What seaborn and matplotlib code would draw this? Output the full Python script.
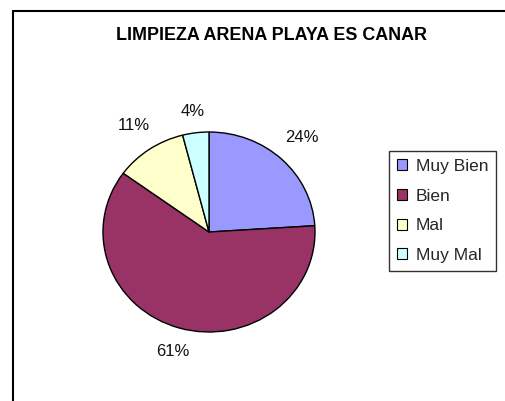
import matplotlib
matplotlib.use("Agg")
import numpy as np
import matplotlib.pyplot as plt
import seaborn as sns
from matplotlib.lines import Line2D
from matplotlib.patches import Patch

categories = ["Muy Bien", "Bien", "Mal", "Muy Mal"]
values = [24, 61, 11, 4]
colors = ["#9999FF", "#993366", "#FFFFCC", "#CCFFFF"]
title = "LIMPIEZA ARENA PLAYA ES CANAR"

sns.set_theme(style="white")
plt.rcParams['font.family'] = ['Liberation Sans', 'DejaVu Sans']

W, H = 506, 401
fig = plt.figure(figsize=(W / 100, H / 100), dpi=100)
fig.patch.set_facecolor("white")

# frame (left and top edges visible)
fig.add_artist(Line2D([13 / W, 13 / W], [0, 1 - 11 / H], color="black", lw=1.5))
fig.add_artist(Line2D([13 / W, 1], [1 - 11 / H, 1 - 11 / H], color="black", lw=1.5))

fig.text(272 / W, 1 - 35 / H, title, ha="center", va="center",
         fontsize=12.9, fontweight="bold", color="black")

cx, cy, rx, ry = 209, 232, 106, 100
ax = fig.add_axes([(cx - rx) / W, 1 - (cy + ry) / H, 2 * rx / W, 2 * ry / H])
wedges, texts, autotexts = ax.pie(
    values, colors=colors, startangle=90, counterclock=False,
    autopct=lambda p: f"{p:.0f}%", pctdistance=1.25,
    wedgeprops=dict(edgecolor="black", linewidth=1.0),
    textprops=dict(fontsize=12, color="#111111"))
ax.set_aspect("auto")
ax.set_xlim(-1, 1)
ax.set_ylim(-1, 1)
ax.axis("off")

# Excel-like label placement: label box sits a fixed gap outside the rim
fig.canvas.draw()
renderer = fig.canvas.get_renderer()
gap = 13
for w, t in zip(wedges, autotexts):
    th = np.deg2rad((w.theta1 + w.theta2) / 2)
    bb = t.get_window_extent(renderer)
    hw, hh = bb.width / 2, bb.height / 2
    c, s = np.cos(th), np.sin(th)
    ex, ey = rx * c, ry * s
    d = gap + abs(c) * hw + abs(s) * hh
    px = ex + c * d
    py = ey + s * d
    t.set_position((px / rx, py / ry))
    t.set_ha("center")
    t.set_va("center")

handles = [Patch(facecolor=c, edgecolor="black", linewidth=0.8) for c in colors]
leg = fig.legend(handles, categories, loc="upper left",
                 bbox_to_anchor=(389 / W, 1 - 151 / H),
                 fontsize=12.5, frameon=True, fancybox=False,
                 edgecolor="black", handlelength=0.6, handleheight=0.6,
                 handletextpad=0.5, labelspacing=0.85, borderpad=0.45,
                 borderaxespad=0)
leg.get_frame().set_linewidth(1.0)

fig.savefig("out.png", dpi=100, facecolor="white")
